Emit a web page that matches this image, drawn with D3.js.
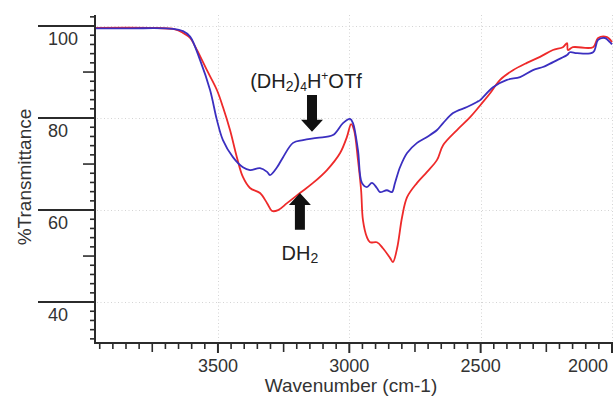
<!DOCTYPE html>
<html>
<head>
<meta charset="utf-8">
<script src="https://cdn.jsdelivr.net/npm/d3@7"></script>
<style>
html,body{margin:0;padding:0;background:#fff;}
svg{display:block;font-family:"Liberation Sans",Arial,sans-serif;}
</style>
</head>
<body>
<svg id="chart" width="614" height="397"></svg>
<script>
// ---- data ----
const blueWavenumber = [3968,3835,3671,3633,3606,3568,3530,3504,3481,3443,3405,3378,3340,3313,3302,3275,3252,3214,3176,3123,3062,3024,2997,2986,2967,2952,2933,2914,2895,2883,2857,2838,2826,2807,2780,2742,2704,2666,2643,2605,2552,2514,2502,2453,2400,2350,2301,2263,2247,2209,2171,2160,2133,2072,2053,2027,2008,2000];
const blueTransmittance = [99.5,99.5,99.4,98.9,97.7,92.6,86.1,79.6,75.2,71.5,69.3,68.7,69.1,68.3,67.6,69.3,71.5,74.6,75.2,75.7,76.3,78.9,79.8,78.9,73.0,65.9,65.0,65.9,64.8,63.9,64.3,63.9,65.9,69.3,72.4,74.6,75.9,77.4,78.9,81.1,82.4,83.5,83.9,86.7,88.3,88.9,90.4,91.1,91.5,92.6,93.7,94.3,94.1,94.3,97.0,97.4,96.5,96.0];
const redWavenumber = [3968,3759,3663,3633,3606,3580,3542,3504,3481,3454,3428,3405,3378,3340,3313,3294,3271,3237,3188,3138,3085,3035,3009,2993,2982,2967,2955,2948,2933,2921,2895,2872,2845,2834,2818,2799,2780,2742,2704,2666,2643,2590,2540,2491,2464,2426,2377,2324,2274,2225,2187,2171,2168,2149,2072,2053,2019,2000];
const redTransmittance = [99.6,99.6,99.3,98.5,97.4,94.8,90.4,86.1,82.4,77.4,71.5,67.2,64.8,63.7,61.5,59.8,60.0,61.5,63.7,65.9,68.7,72.4,75.9,78.7,77.4,70.9,64.3,57.8,54.1,53.0,53.0,51.7,49.6,48.7,51.7,58.5,62.8,65.9,68.3,70.9,74.1,77.4,80.2,83.5,85.4,88.3,90.4,92.0,93.3,94.8,95.4,96.3,94.8,95.4,95.4,97.4,97.6,96.5];
const xMajorTicks = [3500,3000,2500,2000];
const xTickLabels = ["3500","3000","2500","2000"];
const yMajorTicks = [100,80,60,40];
const yTickLabels = ["100","80","60","40"];
const xDomain = [3968,2000];
const yDomain = [31.1,102.4];
// annotations (data space)
const annoTop = {text:"(DH2)4H+OTf", wn:3165, t:86.5, arrowWn:3142, arrowFrom:85.0, arrowTo:77.0};
const annoBottom = {text:"DH2", wn:3188, t:49.1, arrowWn:3188, arrowFrom:55.7, arrowTo:63.7};

// ---- layout ----
const svg = d3.select("#chart");
const L = 95, R = 612, T = 15, B = 343;
const x = d3.scaleLinear().domain(xDomain).range([L, R]);
const y = d3.scaleLinear().domain(yDomain).range([B, T]);
const axisColor = "#2b2b2b";
const textColor = "#333";

svg.append("defs").append("clipPath").attr("id","clip")
  .append("rect").attr("x",L).attr("y",T).attr("width",R-L+2).attr("height",B-T);

// gridlines
const grid = svg.append("g").attr("stroke","#d4d4d4").attr("stroke-width",1).attr("stroke-dasharray","1,2.5");
grid.selectAll("line.h").data(yMajorTicks).join("line")
  .attr("x1",L+2).attr("x2",R).attr("y1",d=>Math.round(y(d))+0.5).attr("y2",d=>Math.round(y(d))+0.5);
grid.selectAll("line.v").data(xMajorTicks).join("line")
  .attr("y1",T).attr("y2",B-2).attr("x1",d=>Math.round(x(d))+0.5).attr("x2",d=>Math.round(x(d))+0.5);

// curves
const line = d3.line().x(d=>x(d[0])).y(d=>y(d[1])).curve(d3.curveCatmullRom.alpha(0.5));
const plot = svg.append("g").attr("clip-path","url(#clip)");
plot.append("path").datum(d3.zip(redWavenumber, redTransmittance))
  .attr("fill","none").attr("stroke","#ee2a2a").attr("stroke-width",1.8).attr("d",line);
plot.append("path").datum(d3.zip(blueWavenumber, blueTransmittance))
  .attr("fill","none").attr("stroke","#3b2fc0").attr("stroke-width",1.8).attr("d",line);

// axes
const ax = svg.append("g").attr("stroke",axisColor);
ax.append("line").attr("x1",L).attr("x2",L).attr("y1",T).attr("y2",B+1).attr("stroke-width",2);
ax.append("line").attr("x1",L-1).attr("x2",R+1).attr("y1",B).attr("y2",B).attr("stroke-width",2);

// y ticks
const yMinor = d3.range(32, 103, 2).filter(v => v % 10 !== 0);
ax.selectAll("line.ym").data(yMinor).join("line")
  .attr("x1",L-5).attr("x2",L).attr("y1",d=>y(d)).attr("y2",d=>y(d)).attr("stroke-width",1.6);
const yMid = [90,70,50];
ax.selectAll("line.yd").data(yMid).join("line")
  .attr("x1",L-12).attr("x2",L).attr("y1",d=>y(d)).attr("y2",d=>y(d)).attr("stroke-width",1.6);
ax.selectAll("line.yM").data(yMajorTicks).join("line")
  .attr("x1",38).attr("x2",L).attr("y1",d=>y(d)).attr("y2",d=>y(d)).attr("stroke-width",2);

// x ticks
const xMinor = d3.range(2000, 3970, 50).filter(v => v % 250 !== 0);
ax.selectAll("line.xm").data(xMinor).join("line")
  .attr("y1",B).attr("y2",B+6).attr("x1",d=>x(d)).attr("x2",d=>x(d)).attr("stroke-width",1.6);
const xMid = [3750,3250,2750,2250];
ax.selectAll("line.xd").data(xMid).join("line")
  .attr("y1",B).attr("y2",B+9).attr("x1",d=>x(d)).attr("x2",d=>x(d)).attr("stroke-width",1.6);
ax.selectAll("line.xM").data(xMajorTicks).join("line")
  .attr("y1",B).attr("y2",B+10).attr("x1",d=>x(d)).attr("x2",d=>x(d)).attr("stroke-width",2);

// tick labels
svg.append("g").selectAll("text").data(yMajorTicks).join("text")
  .attr("x",48).attr("y",d=>y(d)+19).attr("font-size",18).attr("fill",textColor)
  .text((d,i)=>yTickLabels[i]);
svg.append("g").selectAll("text").data(xMajorTicks).join("text")
  .attr("x",(d,i)=> i===xMajorTicks.length-1 ? R-4 : x(d))
  .attr("text-anchor",(d,i)=> i===xMajorTicks.length-1 ? "end" : "middle")
  .attr("y",372).attr("font-size",18).attr("fill",textColor)
  .text((d,i)=>xTickLabels[i]);

// axis titles
svg.append("text").attr("x",351).attr("y",392).attr("text-anchor","middle")
  .attr("font-size",19).attr("fill",textColor).text("Wavenumber (cm-1)");
svg.append("text").attr("transform","translate(31,177) rotate(-90)").attr("text-anchor","middle")
  .attr("font-size",19).attr("fill",textColor).text("%Transmittance");

// annotations
function arrow(wn, tFrom, tTo){
  const ax0 = x(wn), y0 = y(tFrom), y1 = y(tTo);
  const dir = Math.sign(y1 - y0);
  const headLen = 12, headW = 11, shaftW = 5;
  const yh = y1 - dir*headLen;
  const p = d3.path();
  p.moveTo(ax0-shaftW, y0); p.lineTo(ax0+shaftW, y0); p.lineTo(ax0+shaftW, yh);
  p.lineTo(ax0+headW, yh); p.lineTo(ax0, y1); p.lineTo(ax0-headW, yh); p.lineTo(ax0-shaftW, yh); p.closePath();
  svg.append("path").attr("d",p.toString()).attr("fill","#111");
}
arrow(annoTop.arrowWn, annoTop.arrowFrom, annoTop.arrowTo);
arrow(annoBottom.arrowWn, annoBottom.arrowFrom, annoBottom.arrowTo);

const t1 = svg.append("text").attr("x",x(annoTop.wn)).attr("y",y(annoTop.t))
  .attr("text-anchor","middle").attr("font-size",20).attr("fill","#222");
t1.append("tspan").text("(DH");
t1.append("tspan").attr("font-size",14).attr("dy",3).text("2");
t1.append("tspan").attr("dy",-3).text(")");
t1.append("tspan").attr("font-size",12).attr("dy",3).text("4");
t1.append("tspan").attr("dy",-3).text("H");
t1.append("tspan").attr("font-size",12).attr("dy",-8).text("+");
t1.append("tspan").attr("dy",8).text("OTf");

const t2 = svg.append("text").attr("x",x(annoBottom.wn)).attr("y",y(annoBottom.t))
  .attr("text-anchor","middle").attr("font-size",20).attr("fill","#222");
t2.append("tspan").text("DH");
t2.append("tspan").attr("font-size",14).attr("dy",3).text("2");
</script>
</body>
</html>
